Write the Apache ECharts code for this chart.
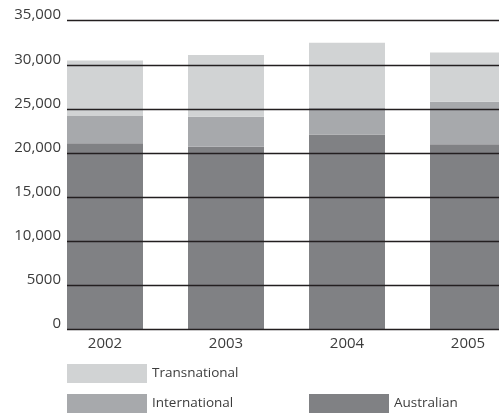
<!DOCTYPE html>
<html><head><meta charset="utf-8">
<script src="https://cdn.jsdelivr.net/npm/echarts@6/dist/echarts.min.js"></script>
<style>html,body{margin:0;padding:0;background:#fff}#c{width:499px;height:414px}</style>
</head><body><div id="c"></div>
<script>
var years = ['2002','2003','2004','2005'];
var australian = [21100, 20700, 22100, 21000];
var international = [3100, 3400, 3000, 4800];
var transnational = [6300, 7000, 7400, 5600];
var yTicks = [0, 5000, 10000, 15000, 20000, 25000, 30000, 35000];

var FONT = 'Open Sans';
var TXT = '#3c3c3c';
var chart = echarts.init(document.getElementById('c'));
function fmt(v){ return v >= 10000 ? String(v).replace(/\B(?=(\d{3})+(?!\d))/g, ',') : String(v); }
var yMax = yTicks[yTicks.length-1], yStep = yTicks[1]-yTicks[0];
chart.setOption({
  animation: false,
  grid: [
    {left: 67, right: 0, top: 20.7, bottom: 84.7, outerBoundsMode: 'none'},
    {left: 44.5, width: 484, top: 20.7, bottom: 84.7, outerBoundsMode: 'none'}
  ],
  xAxis: [
    {gridIndex: 0, type: 'category', data: years, show: false},
    {gridIndex: 1, type: 'category', data: years,
     axisLine: {show: false}, axisTick: {show: false},
     axisLabel: {color: TXT, fontFamily: FONT, fontSize: 15, margin: 7}}
  ],
  yAxis: [
    {gridIndex: 0, type: 'value', min: 0, max: yMax, interval: yStep, z: 10,
     axisLine: {show: false}, axisTick: {show: false},
     splitLine: {lineStyle: {color: '#231f20', width: 1.4}},
     axisLabel: {color: TXT, fontFamily: FONT, fontSize: 15, margin: 6,
       verticalAlign: 'bottom', lineHeight: 11, formatter: fmt}},
    {gridIndex: 1, type: 'value', min: 0, max: yMax, interval: yStep, show: false,
     splitLine: {show: false}}
  ],
  legend: [
    {data: ['Transnational'], left: 67, top: 364, padding: 0, itemWidth: 80, itemHeight: 19,
     icon: 'rect', textStyle: {color: TXT, fontFamily: FONT, fontSize: 13.5}},
    {data: ['International'], left: 67, top: 394, padding: 0, itemWidth: 80, itemHeight: 19,
     icon: 'rect', textStyle: {color: TXT, fontFamily: FONT, fontSize: 13.5}},
    {data: ['Australian'], left: 309, top: 394, padding: 0, itemWidth: 80, itemHeight: 19,
     icon: 'rect', textStyle: {color: TXT, fontFamily: FONT, fontSize: 13.5}}
  ],
  series: [
    {name: 'Australian', type: 'bar', stack: 's', xAxisIndex: 1, yAxisIndex: 1, barWidth: 76,
     data: australian, itemStyle: {color: '#808184'}},
    {name: 'International', type: 'bar', stack: 's', xAxisIndex: 1, yAxisIndex: 1, barWidth: 76,
     data: international, itemStyle: {color: '#a7a9ac'}},
    {name: 'Transnational', type: 'bar', stack: 's', xAxisIndex: 1, yAxisIndex: 1, barWidth: 76,
     data: transnational, itemStyle: {color: '#d1d3d4'}}
  ]
});
</script></body></html>
